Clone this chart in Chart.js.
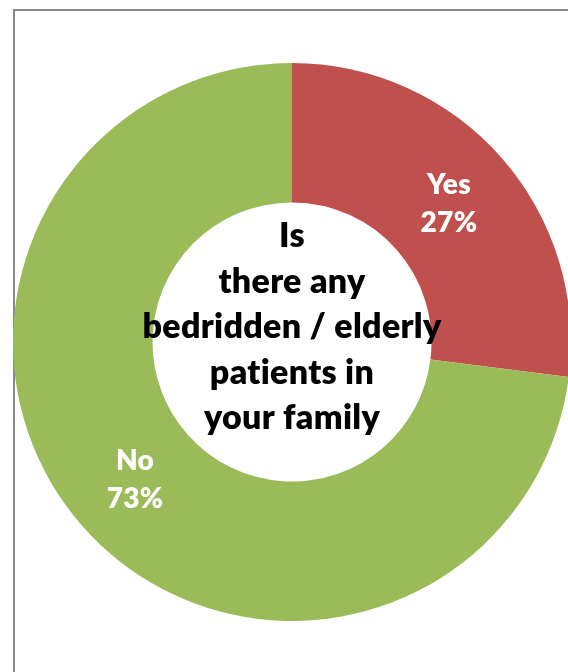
<!DOCTYPE html>
<html>
<head>
<meta charset="utf-8">
<script src="https://cdn.jsdelivr.net/npm/chart.js@4/dist/chart.umd.min.js"></script>
<style>
  html, body { margin: 0; padding: 0; background: #fff; width: 568px; height: 672px; overflow: hidden; }
  #frame { position: absolute; left: 13px; top: 9px; width: 700px; height: 800px; border: 2px solid #898989; box-sizing: border-box; background: #fff; }
  #c { position: absolute; left: 13px; top: 63px; }
</style>
</head>
<body>
<div id="frame"></div>
<canvas id="c" width="558" height="558"></canvas>
<script>
const categories = ['Yes', 'No'];
const values = [27, 73];
const percentLabels = ['27%', '73%'];
const sliceColors = ['#C0504D', '#9BBB59'];
const centerTitle = ['Is', 'there any', 'bedridden / elderly', 'patients in', 'your family'];

const FONT = 'Lato, "Open Sans", sans-serif';

const labelPlugin = {
  id: 'labelPlugin',
  afterDraw(chart) {
    const ctx = chart.ctx;
    const meta = chart.getDatasetMeta(0);
    ctx.save();
    if ('letterSpacing' in ctx) ctx.letterSpacing = '0.3px';
    ctx.textAlign = 'center';
    ctx.textBaseline = 'middle';
    // slice labels
    ctx.fillStyle = '#ffffff';
    ctx.font = '800 28px ' + FONT;
    meta.data.forEach((arc, i) => {
      const p = arc.getCenterPoint();
      ctx.fillText(categories[i], p.x, p.y - 19);
      ctx.fillText(percentLabels[i], p.x, p.y + 19);
    });
    // center title
    const cx = (chart.chartArea.left + chart.chartArea.right) / 2;
    const cy = (chart.chartArea.top + chart.chartArea.bottom) / 2;
    ctx.fillStyle = '#000000';
    ctx.font = '800 34px ' + FONT;
    ctx.textBaseline = 'alphabetic';
    const lh = 45.5;
    const firstBaseline = cy - 95;
    centerTitle.forEach((t, i) => {
      ctx.fillText(t, cx, firstBaseline + i * lh);
    });
    ctx.restore();
  }
};

new Chart(document.getElementById('c'), {
  type: 'doughnut',
  data: {
    labels: categories,
    datasets: [{
      data: values,
      backgroundColor: sliceColors,
      borderWidth: 0
    }]
  },
  options: {
    responsive: false,
    animation: false,
    cutout: '50%',
    layout: { padding: 0 },
    plugins: {
      legend: { display: false },
      tooltip: { enabled: false }
    }
  },
  plugins: [labelPlugin]
});
</script>
</body>
</html>
